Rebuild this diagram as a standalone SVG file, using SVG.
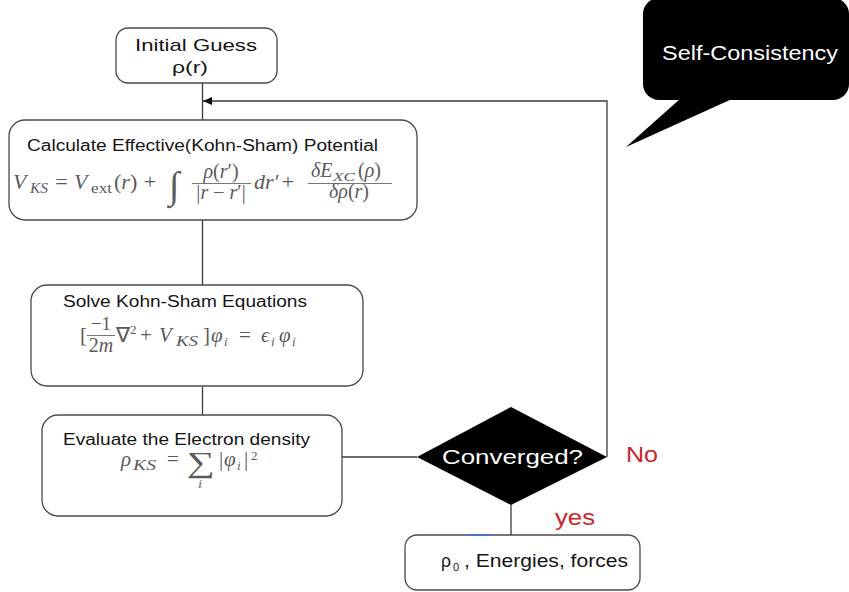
<svg xmlns="http://www.w3.org/2000/svg" width="849" height="592" viewBox="0 0 849 592">
<defs>
<style>
.box{fill:#fff;stroke:#4a4a4a;stroke-width:1.3}
.ln{fill:none;stroke:#3a3a3a;stroke-width:1.3}
.t{font-family:"Liberation Sans",Arial,sans-serif;fill:#151515}
.m{font-family:"Liberation Serif","Times New Roman",serif;fill:#5a5a5a}
.i{font-style:italic}
.red{font-family:"Liberation Sans",Arial,sans-serif;fill:#c8262c;font-size:22px}
.bar{stroke:#777;stroke-width:1}
</style>
<marker id="ah" markerWidth="9" markerHeight="8" refX="9" refY="4" orient="auto" markerUnits="userSpaceOnUse">
<path d="M0,0 L9,4 L0,8 Z" fill="#111"/>
</marker>
</defs>

<g id="connectors">
<line class="ln" x1="202.5" y1="83" x2="202.5" y2="120"/>
<line class="ln" x1="202.5" y1="220" x2="202.5" y2="285"/>
<line class="ln" x1="202.5" y1="387" x2="202.5" y2="415"/>
<line class="ln" x1="342" y1="457" x2="417" y2="457"/>
<polyline class="ln" points="607,457 607,101 203,101" marker-end="url(#ah)"/>
<line class="ln" x1="511" y1="505" x2="511" y2="535"/>
</g>

<g id="initial">
<rect class="box" x="116" y="28" width="161" height="55" rx="12"/>
<text class="t" x="135" y="51" font-size="17" textLength="122" lengthAdjust="spacingAndGlyphs">Initial Guess</text>
<text class="t" x="172" y="73" font-size="17" textLength="36" lengthAdjust="spacingAndGlyphs">ρ(r)</text>
</g>

<g id="calc">
<rect class="box" x="9" y="120" width="408" height="100" rx="16"/>
<text class="t" x="27" y="151" font-size="16" textLength="351" lengthAdjust="spacingAndGlyphs">Calculate Effective(Kohn-Sham) Potential</text>
<text class="m i" x="13" y="189" font-size="22">V</text>
<text class="m i" x="30" y="193" font-size="14" textLength="18" lengthAdjust="spacingAndGlyphs">KS</text>
<text class="m" x="61.5" y="189" font-size="22" text-anchor="middle">=</text>
<text class="m i" x="74" y="189" font-size="22">V</text>
<text class="m" x="91" y="193" font-size="14" textLength="21" lengthAdjust="spacingAndGlyphs">ext</text>
<text class="m" x="114" y="189" font-size="22">(<tspan class="i">r</tspan>)</text>
<text class="m" x="150" y="189" font-size="22" text-anchor="middle">+</text>
<text class="m i" x="174" y="198" font-size="38" text-anchor="middle">∫</text>
<text class="m" x="221" y="178" font-size="20" text-anchor="middle"><tspan class="i">ρ</tspan>(<tspan class="i">r</tspan>′)</text>
<line class="bar" x1="192" y1="183.5" x2="251" y2="183.5"/>
<text class="m" x="221" y="199" font-size="20" text-anchor="middle">|<tspan class="i">r</tspan> − <tspan class="i">r</tspan>′|</text>
<text class="m i" x="254" y="189" font-size="22">dr′</text>
<text class="m" x="288" y="189" font-size="22" text-anchor="middle">+</text>
<text class="m i" x="311" y="177" font-size="20">δE</text>
<text class="m i" x="333" y="181" font-size="13" textLength="22" lengthAdjust="spacingAndGlyphs">XC</text>
<text class="m" x="358" y="177" font-size="20">(<tspan class="i">ρ</tspan>)</text>
<line class="bar" x1="308" y1="183.5" x2="392" y2="183.5"/>
<text class="m" x="349" y="198" font-size="20" text-anchor="middle"><tspan class="i">δρ</tspan>(<tspan class="i">r</tspan>)</text>
</g>

<g id="solve">
<rect class="box" x="31" y="285" width="332" height="101" rx="16"/>
<text class="t" x="63" y="307" font-size="16" textLength="244" lengthAdjust="spacingAndGlyphs">Solve Kohn-Sham Equations</text>
<text class="m" x="80" y="342" font-size="21">[</text>
<text class="m" x="101" y="330" font-size="19" text-anchor="middle">−1</text>
<line class="bar" x1="87" y1="335.5" x2="115" y2="335.5"/>
<text class="m" x="101" y="352" font-size="20" text-anchor="middle">2<tspan class="i">m</tspan></text>
<text class="m" x="116" y="342" font-size="21">∇</text>
<text class="m" x="130" y="334" font-size="13">2</text>
<text class="m" x="146" y="342" font-size="21" text-anchor="middle">+</text>
<text class="m i" x="159" y="342" font-size="21">V</text>
<text class="m i" x="176" y="346" font-size="14" textLength="22" lengthAdjust="spacingAndGlyphs">KS</text>
<text class="m" x="203" y="342" font-size="21">]</text>
<text class="m i" x="211" y="342" font-size="21">φ</text>
<text class="m i" x="224" y="346" font-size="13">i</text>
<text class="m" x="245" y="342" font-size="21" text-anchor="middle">=</text>
<text class="m i" x="261" y="342" font-size="21">ϵ</text>
<text class="m i" x="271" y="346" font-size="13">i</text>
<text class="m i" x="279" y="342" font-size="21">φ</text>
<text class="m i" x="292" y="346" font-size="13">i</text>
</g>

<g id="evaluate">
<rect class="box" x="42" y="415" width="300" height="101" rx="16"/>
<text class="t" x="63" y="445" font-size="16" textLength="247" lengthAdjust="spacingAndGlyphs">Evaluate the Electron density</text>
<text class="m i" x="121" y="466" font-size="21">ρ</text>
<text class="m i" x="133" y="470" font-size="14" textLength="23" lengthAdjust="spacingAndGlyphs">KS</text>
<text class="m" x="173" y="466" font-size="21" text-anchor="middle">=</text>
<text class="m" x="187" y="472" font-size="29" textLength="28" lengthAdjust="spacingAndGlyphs">∑</text>
<text class="m i" x="200" y="488" font-size="13" text-anchor="middle">i</text>
<text class="m" x="219" y="466" font-size="21">|</text>
<text class="m i" x="224" y="466" font-size="21">φ</text>
<text class="m i" x="237" y="470" font-size="13">i</text>
<text class="m" x="244" y="466" font-size="21">|</text>
<text class="m" x="251" y="460" font-size="13">2</text>
</g>

<g id="converged">
<polygon points="511,407 607,457 511,505 417,457" fill="#000"/>
<text class="t" x="442" y="464" font-size="21" textLength="141" lengthAdjust="spacingAndGlyphs" style="fill:#fff">Converged?</text>
</g>

<g id="result">
<rect class="box" x="405" y="535" width="235" height="55" rx="12"/>
<line x1="468" y1="535" x2="491" y2="535" stroke="#4a72c0" stroke-width="2"/>
<text class="t" x="441" y="567" font-size="18" textLength="10" lengthAdjust="spacingAndGlyphs">ρ</text>
<text class="t" x="453" y="571" font-size="11">0</text>
<text class="t" x="464" y="567" font-size="18" textLength="164" lengthAdjust="spacingAndGlyphs">, Energies, forces</text>
</g>

<g id="labels">
<text class="red" x="626" y="462" textLength="32" lengthAdjust="spacingAndGlyphs">No</text>
<text class="red" x="555" y="525" textLength="40" lengthAdjust="spacingAndGlyphs">yes</text>
</g>

<g id="callout">
<rect x="643" y="-2" width="206" height="102" rx="16" fill="#000"/>
<polygon points="680,99 626,147 732,99" fill="#000"/>
<text class="t" x="662" y="60" font-size="21" textLength="176" lengthAdjust="spacingAndGlyphs" style="fill:#fff">Self-Consistency</text>
</g>
</svg>
